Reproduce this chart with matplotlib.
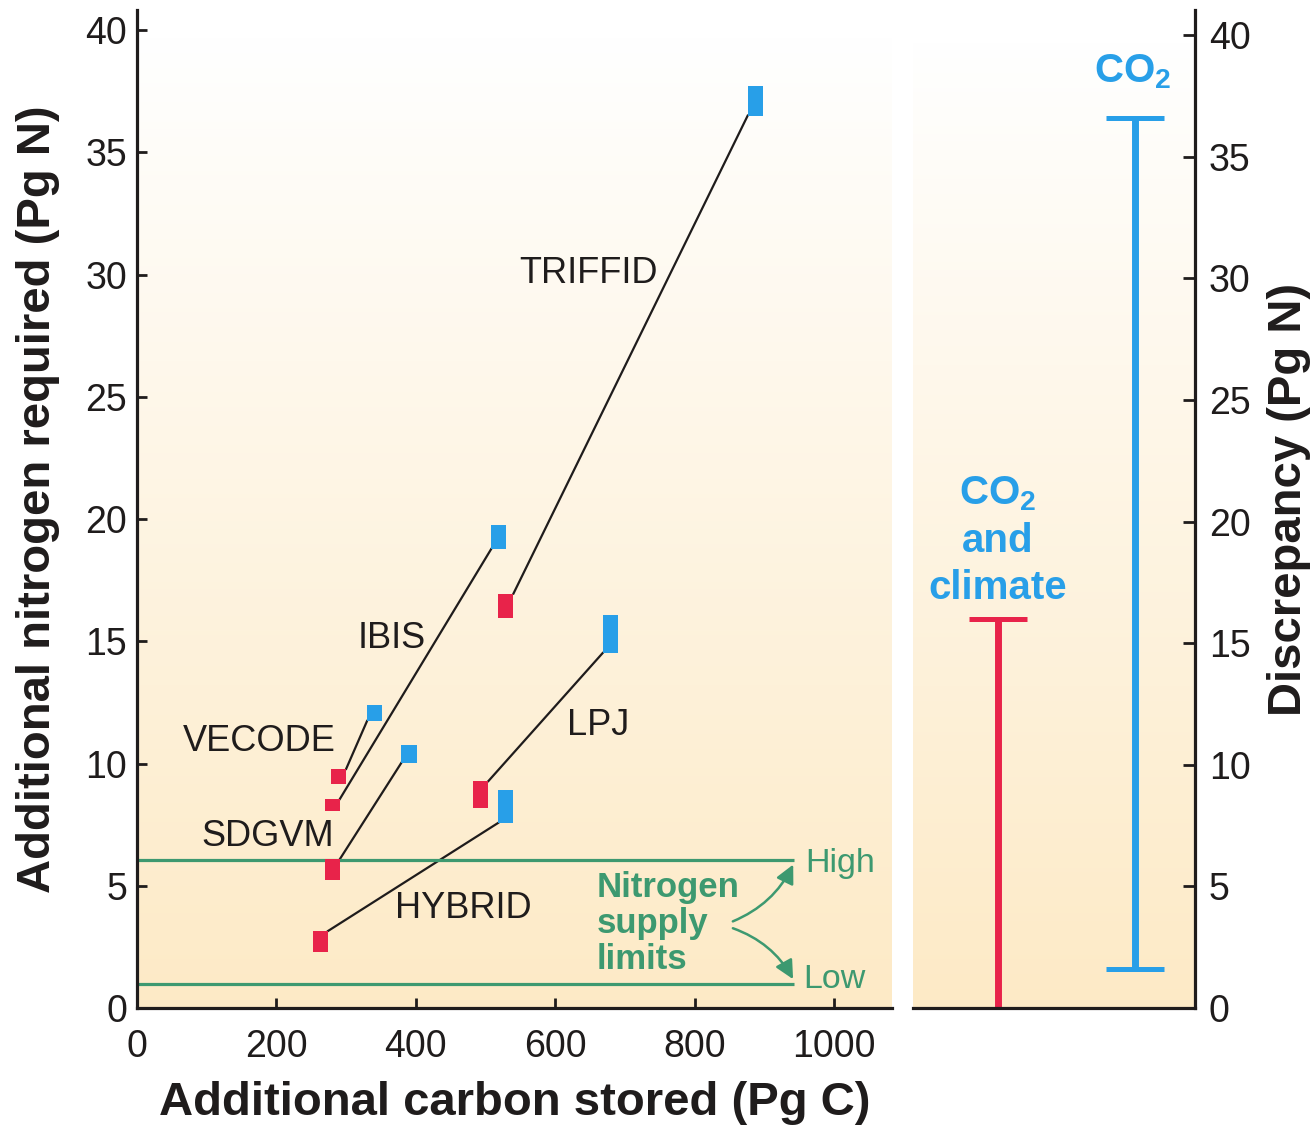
import numpy as np
import matplotlib.pyplot as plt
from matplotlib.colors import LinearSegmentedColormap

plt.rcParams['font.family'] = ['Liberation Sans', 'DejaVu Sans']
plt.rcParams['mathtext.fontset'] = 'custom'
plt.rcParams['mathtext.rm'] = 'Liberation Sans'
plt.rcParams['mathtext.bf'] = 'Liberation Sans:bold'

# model names
models = ["TRIFFID", "IBIS", "VECODE", "SDGVM", "LPJ", "HYBRID"]

# CO2 + climate runs (red marks): carbon stored, nitrogen range
clim_carbon = [529, 280, 289, 280, 493, 263]
clim_n_low = [15.95, 8.06, 9.16, 5.24, 8.18, 2.29]
clim_n_high = [16.95, 8.55, 9.78, 6.09, 9.28, 3.15]

# CO2 only runs (blue marks)
co2_carbon = [887, 519, 341, 390, 679, 529]
co2_n_low = [36.5, 18.77, 11.74, 10.02, 14.52, 7.57]
co2_n_high = [37.7, 19.75, 12.39, 10.76, 16.07, 8.92]

# nitrogen supply limits
supply_high = 6.05
supply_low = 1.0

# discrepancy panel
disc_labels = ["CO$_\\mathbf{2}$\nand\nclimate", "CO$_\\mathbf{2}$"]
disc_low = [0.0, 1.6]
disc_high = [16.0, 36.6]

RED = '#e8234a'
BLUE = '#289fe8'
GREEN = '#3d9970'
INK = '#1f1c1c'

fig = plt.figure(figsize=(13.15, 11.25), dpi=100)
ax = fig.add_axes([137 / 1315, 117 / 1125, 755 / 1315, 998 / 1125])
ax2 = fig.add_axes([913 / 1315, 117 / 1125, 282 / 1315, 998 / 1125])

bg = LinearSegmentedColormap.from_list('bg', ['#fdeac6', '#ffffff'])
grad = np.linspace(0, 1, 256).reshape(-1, 1)

# ---- left panel ----
ax.imshow(grad, extent=[0, 1083, 0, 39.8], origin='lower', cmap=bg,
          aspect='auto', zorder=0)

hw = 11  # half width of marks in Pg C
for i in range(len(models)):
    x0 = clim_carbon[i] + hw
    y0 = clim_n_high[i]
    x1 = co2_carbon[i] - hw
    y1 = co2_n_low[i]
    ax.plot([x0, x1], [y0, y1], color=INK, lw=1.6, zorder=2)

ax.bar(clim_carbon, np.array(clim_n_high) - np.array(clim_n_low),
       bottom=clim_n_low, width=2 * hw, color=RED, zorder=3)
ax.bar(co2_carbon, np.array(co2_n_high) - np.array(co2_n_low),
       bottom=co2_n_low, width=2 * hw, color=BLUE, zorder=3)

label_x = [549, 317, 66, 93, 617, 370]
label_y = [30.06, 15.13, 10.9, 7.03, 11.57, 4.05]
for name, lx, ly in zip(models, label_x, label_y):
    ax.text(lx, ly, name, fontsize=26, color=INK, ha='left', va='center')

ax.hlines([supply_high, supply_low], 0, 943, color=GREEN, lw=2.3, zorder=2)
ax.annotate('', xy=(943, supply_high - 0.08), xytext=(851, 3.5),
            arrowprops=dict(arrowstyle='-|>', color=GREEN, lw=1.8,
                            mutation_scale=28,
                            connectionstyle='arc3,rad=0.2'))
ax.annotate('', xy=(943, supply_low + 0.08), xytext=(851, 3.3),
            arrowprops=dict(arrowstyle='-|>', color=GREEN, lw=1.8,
                            mutation_scale=28,
                            connectionstyle='arc3,rad=-0.2'))
ax.text(660, 3.45, "Nitrogen\nsupply\nlimits", fontsize=25, fontweight='bold',
        color=GREEN, ha='left', va='center', linespacing=1.12)
ax.text(958, 5.9, "High", fontsize=24.5, color=GREEN, ha='left', va='center')
ax.text(955, 1.15, "Low", fontsize=24.5, color=GREEN, ha='left', va='center')

ax.set_xlim(0, 1083)
ax.set_ylim(0, 40.82)
ax.set_xticks(range(0, 1001, 200))
ax.set_yticks(range(0, 41, 5))
ax.tick_params(direction='in', length=7, width=2, labelsize=27,
               colors=INK)
ax.tick_params(axis='y', pad=7)
ax.tick_params(axis='x', pad=15)
for s in ['top', 'right']:
    ax.spines[s].set_visible(False)
for s in ['left', 'bottom']:
    ax.spines[s].set_linewidth(2.3)
    ax.spines[s].set_color(INK)

ax.set_xlabel("Additional carbon stored (Pg C)", fontsize=34,
              fontweight='bold', color=INK)
ax.xaxis.set_label_coords(0.5, -0.073)
ax.set_ylabel("Additional nitrogen required (Pg N)", fontsize=34,
              fontweight='bold', color=INK)
ax.yaxis.set_label_coords(-0.102, 0.51)

# ---- right panel ----
ax2.imshow(grad, extent=[-0.62, 1.44, 0, 39.8], origin='lower', cmap=bg,
           aspect='auto', zorder=0)
cols = [RED, BLUE]
cap = 0.21
for i in range(len(disc_labels)):
    ax2.vlines(i, disc_low[i], disc_high[i], color=cols[i], lw=5, zorder=2)
    ax2.hlines(disc_high[i], i - cap, i + cap, color=cols[i], lw=3.6, zorder=2)
    if disc_low[i] > 0:
        ax2.hlines(disc_low[i], i - cap, i + cap, color=cols[i], lw=3.6,
                   zorder=2)

ax2.text(0, 19.2, disc_labels[0], fontsize=29, fontweight='bold', color=BLUE,
         ha='center', va='center', linespacing=1.3)
ax2.text(0.985, 38.5, disc_labels[1], fontsize=29, fontweight='bold',
         color=BLUE, ha='center', va='center')

ax2.set_xlim(-0.62, 1.44)
ax2.set_ylim(0, 41.03)
ax2.set_xticks([])
ax2.set_yticks(range(0, 41, 5))
ax2.yaxis.tick_right()
ax2.tick_params(axis='y', direction='in', length=9, width=2, labelsize=27,
                pad=10, colors=INK)
for s in ['top', 'left']:
    ax2.spines[s].set_visible(False)
for s in ['right', 'bottom']:
    ax2.spines[s].set_linewidth(2.3)
    ax2.spines[s].set_color(INK)
ax2.yaxis.set_label_position('right')
ax2.set_ylabel("Discrepancy (Pg N)", fontsize=34, fontweight='bold',
               color=INK)
ax2.yaxis.set_label_coords(1.255, 0.51)

fig.savefig('out.png', dpi=100)
